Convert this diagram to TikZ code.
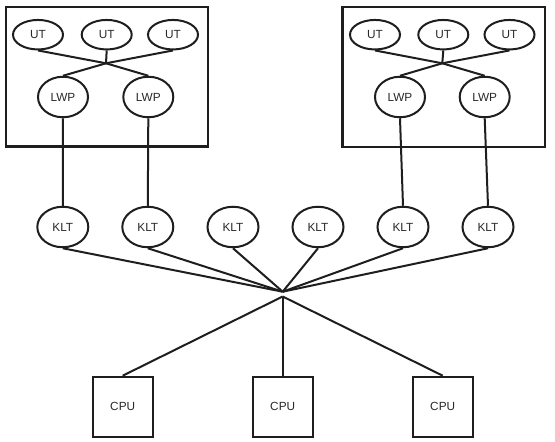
\documentclass[tikz,border=0pt]{standalone}
\usepackage{fontspec}
\setmainfont{Liberation Sans}
\usetikzlibrary{shapes.geometric}
\definecolor{ink}{RGB}{30,30,30}
\definecolor{txt}{RGB}{40,40,40}
\begin{document}
\begin{tikzpicture}[x=1pt,y=-1pt,
  line width=2pt, draw=ink,
  every node/.style={font=\fontsize{11.8}{13}\selectfont, text=txt},
  ut/.style={ellipse, draw=ink, line width=2pt, minimum width=50pt, minimum height=29.5pt, inner sep=0pt},
  lwp/.style={ellipse, draw=ink, line width=2pt, minimum width=50pt, minimum height=40.5pt, inner sep=0pt},
  klt/.style={ellipse, draw=ink, line width=2pt, minimum width=51pt, minimum height=40.5pt, inner sep=0pt},
  cpu/.style={rectangle, draw=ink, line width=2pt, minimum width=60pt, minimum height=60pt, inner sep=0pt},
  proc/.style={rectangle, draw=ink, line width=2.3pt, inner sep=0pt},
  link/.style={draw=ink, line width=2pt}]
\useasboundingbox (0,0) rectangle (555,442);

% process boxes
\node[proc, minimum width=202pt, minimum height=139.5pt] (boxL) at (107,76.7) {};
\node[proc, minimum width=202.7pt, minimum height=140pt] (boxR) at (443.7,76.7) {};

% left process
\node[ut] (lu1) at (38,34.7) {UT};
\node[ut] (lu2) at (106.7,34.7) {UT};
\node[ut] (lu3) at (173,34.7) {UT};
\coordinate (lj) at (106,63.3);
\node[lwp] (ll1) at (63,97) {LWP};
\node[lwp] (ll2) at (148.3,97) {LWP};

% right process
\node[ut] (ru1) at (375,34.7) {UT};
\node[ut] (ru2) at (443.3,34.7) {UT};
\node[ut] (ru3) at (509.5,34.7) {UT};
\coordinate (rj) at (442.3,63.3);
\node[lwp] (rl1) at (400,97) {LWP};
\node[lwp] (rl2) at (484.7,97) {LWP};

% KLT row
\node[klt] (k1) at (62.8,227) {KLT};
\node[klt] (k2) at (147.8,227) {KLT};
\node[klt] (k3) at (233,227) {KLT};
\node[klt] (k4) at (318,227) {KLT};
\node[klt] (k5) at (403,227) {KLT};
\node[klt] (k6) at (488,227) {KLT};

% hub
\coordinate (hub) at (282.7,291.7);
\coordinate (hub2) at (282.7,296.5);

% CPUs
\node[cpu] (c1) at (122.7,406.7) {CPU};
\node[cpu] (c2) at (282.7,406.7) {CPU};
\node[cpu] (c3) at (442.7,406.7) {CPU};

% UT -> junction -> LWP
\foreach \a in {lu1,lu2,lu3} \draw[link] (\a.south) -- (lj);
\foreach \a in {ll1,ll2} \draw[link] (lj) -- (\a.north);
\foreach \a in {ru1,ru2,ru3} \draw[link] (\a.south) -- (rj);
\foreach \a in {rl1,rl2} \draw[link] (rj) -- (\a.north);

% LWP -> KLT
\draw[link] (ll1.south) -- (k1.north);
\draw[link] (ll2.south) -- (k2.north);
\draw[link] (rl1.south) -- (k5.north);
\draw[link] (rl2.south) -- (k6.north);

% KLT -> hub
\foreach \a in {k1,k2,k3,k4,k5,k6} \draw[link] (\a.south) -- (hub);

% hub -> CPU
\foreach \a in {c1,c2,c3} \draw[link] (hub2) -- (\a.north);
\end{tikzpicture}
\end{document}
